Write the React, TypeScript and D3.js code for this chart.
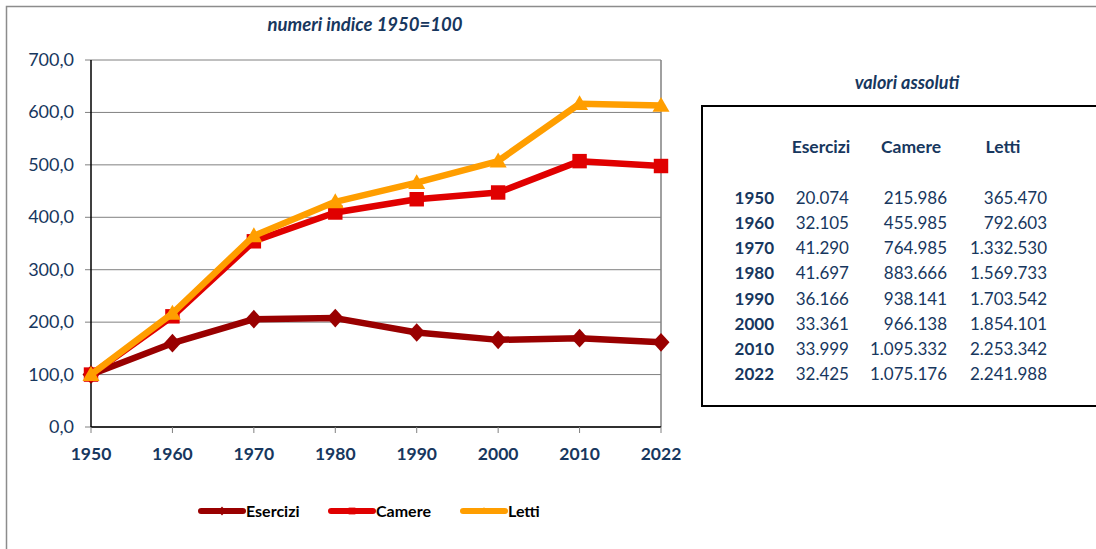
import React from "react";
import * as d3 from "d3";

const YEARS = ["1950", "1960", "1970", "1980", "1990", "2000", "2010", "2022"];
const ESERCIZI_IDX = [100, 159.9, 205.7, 207.7, 180.2, 166.2, 169.4, 161.5];
const CAMERE_IDX = [100, 211.1, 354.2, 409.1, 434.4, 447.3, 507.1, 497.8];
const LETTI_IDX = [100, 216.9, 364.6, 429.5, 466.1, 507.3, 616.6, 613.4];
const Y_TICKS = [0, 100, 200, 300, 400, 500, 600, 700];

const TABLE_HEAD = ["Esercizi", "Camere", "Letti"];
const ESERCIZI_ABS = ["20.074", "32.105", "41.290", "41.697", "36.166", "33.361", "33.999", "32.425"];
const CAMERE_ABS = ["215.986", "455.985", "764.985", "883.666", "938.141", "966.138", "1.095.332", "1.075.176"];
const LETTI_ABS = ["365.470", "792.603", "1.332.530", "1.569.733", "1.703.542", "1.854.101", "2.253.342", "2.241.988"];

const W = 1096;
const H = 549;
const NAVY = "#17375E";
const FONT = "Lato, 'Open Sans', sans-serif";

type Shape = "diamond" | "square" | "triangle";

const SERIES: { name: string; values: number[]; color: string; shape: Shape }[] = [
  { name: "Esercizi", values: ESERCIZI_IDX, color: "#990000", shape: "diamond" },
  { name: "Camere", values: CAMERE_IDX, color: "#E00000", shape: "square" },
  { name: "Letti", values: LETTI_IDX, color: "#FF9E00", shape: "triangle" },
];

function markerPath(shape: Shape, s: number) {
  if (shape === "diamond") return `M0,${-s * 1.1}L${s},0L0,${s * 1.1}L${-s},0Z`;
  if (shape === "square") return `M${-s * 0.85},${-s * 0.85}h${s * 1.7}v${s * 1.7}h${-s * 1.7}Z`;
  return `M0,${-s}L${s},${s * 0.75}L${-s},${s * 0.75}Z`;
}

export default function App() {
  const plot = { left: 91, right: 661, top: 60, bottom: 427 };

  const x = d3.scalePoint<string>().domain(YEARS).range([plot.left, plot.right]).padding(0);
  const y = d3.scaleLinear().domain([0, 700]).range([plot.bottom, plot.top]);

  const line = d3
    .line<number>()
    .x((_, i) => x(YEARS[i]) as number)
    .y((d) => y(d));

  // table layout
  const tbl = { left: 702, top: 106, bottom: 406 };
  const colRight = [849, 947, 1047];
  const headCenter = [821, 911, 1003];
  const rowY = d3.scalePoint<string>().domain(YEARS).range([198, 374]);

  const legendX = [199, 329, 461];

  return (
    <svg
      width={W}
      height={H}
      viewBox={`0 0 ${W} ${H}`}
      style={{ position: "absolute", left: 0, top: 0, background: "#fff", fontFamily: FONT }}
    >
      <rect x={0} y={0} width={W} height={H} fill="#fff" />
      <rect x={6.5} y={6.5} width={W + 20} height={H + 20} fill="none" stroke="#8c8c8c" strokeWidth={1.5} />

      <text x={365} y={31} textAnchor="middle" fill={NAVY} fontSize={18.5} fontWeight={700} fontStyle="italic">
        numeri indice 1950=100
      </text>

      {/* grid */}
      {Y_TICKS.map((t) => (
        <g key={t}>
          <line x1={plot.left - 6} x2={plot.right} y1={y(t)} y2={y(t)} stroke="#808080" strokeWidth={1} />
          <text x={74} y={y(t) + 6} textAnchor="end" fill={NAVY} fontSize={18}>
            {t.toFixed(1).replace(".", ",")}
          </text>
        </g>
      ))}
      <line x1={plot.right} x2={plot.right} y1={plot.top} y2={plot.bottom} stroke="#808080" strokeWidth={1.5} />
      <line x1={plot.left} x2={plot.left} y1={plot.top} y2={plot.bottom} stroke="#000" strokeWidth={1.5} />
      <line x1={plot.left} x2={plot.right} y1={plot.bottom} y2={plot.bottom} stroke="#000" strokeWidth={1.5} />
      {YEARS.map((yr) => (
        <g key={yr}>
          <line x1={x(yr)} x2={x(yr)} y1={plot.bottom} y2={plot.bottom + 6} stroke="#808080" strokeWidth={1} />
          <text x={x(yr)} y={460} textAnchor="middle" fill={NAVY} fontSize={17.5} fontWeight={700}>
            {yr}
          </text>
        </g>
      ))}

      {/* series */}
      {SERIES.map((s) => (
        <g key={s.name}>
          <path d={line(s.values) ?? ""} fill="none" stroke={s.color} strokeWidth={6.5} strokeLinejoin="round" />
          {s.values.map((v, i) => (
            <path
              key={i}
              d={markerPath(s.shape, s.shape === "diamond" ? 8.5 : 8.5)}
              transform={`translate(${x(YEARS[i])},${y(v)})`}
              fill={s.color}
            />
          ))}
        </g>
      ))}

      {/* legend */}
      {SERIES.map((s, i) => (
        <g key={s.name} transform={`translate(${legendX[i]},511)`}>
          <line x1={2} x2={44} y1={0} y2={0} stroke={s.color} strokeWidth={6} strokeLinecap="round" />
          <path d={markerPath(s.shape, 4)} transform="translate(23,0)" fill={s.color} />
          <text x={47} y={6} fill="#000" fontSize={16} fontWeight={700}>
            {s.name}
          </text>
        </g>
      ))}

      {/* table */}
      <text x={907} y={89} textAnchor="middle" fill={NAVY} fontSize={18} fontWeight={700} fontStyle="italic">
        valori assoluti
      </text>
      <rect x={tbl.left} y={tbl.top} width={W} height={tbl.bottom - tbl.top} fill="none" stroke="#000" strokeWidth={2} />
      {TABLE_HEAD.map((h, i) => (
        <text key={h} x={headCenter[i]} y={153} textAnchor="middle" fill={NAVY} fontSize={17.5} fontWeight={700}>
          {h}
        </text>
      ))}
      {YEARS.map((yr, r) => (
        <g key={yr} fill={NAVY} fontSize={17}>
          <text x={774} y={(rowY(yr) as number) + 6} textAnchor="end" fontWeight={700}>
            {yr}
          </text>
          {[ESERCIZI_ABS, CAMERE_ABS, LETTI_ABS].map((col, c) => (
            <text key={c} x={colRight[c]} y={(rowY(yr) as number) + 6} textAnchor="end">
              {col[r]}
            </text>
          ))}
        </g>
      ))}
    </svg>
  );
}
